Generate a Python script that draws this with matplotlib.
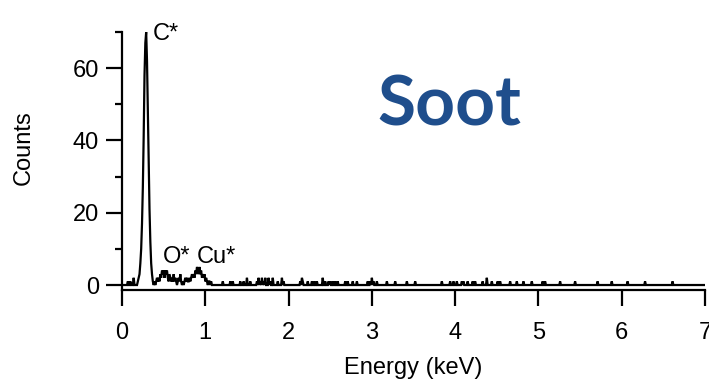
import numpy as np
import matplotlib
matplotlib.use("Agg")
import matplotlib.pyplot as plt
from matplotlib.ticker import MultipleLocator

# EDS spectrum of soot, 10 eV channels from 0 to 7 keV
channel_kev = 0.01
e_max = 7.0

# Carbon K line (counts per channel)
c_peak_start = 0.19
c_peak_counts = [1, 2, 3, 6, 10, 17, 27, 41, 58, 67, 70, 62, 48, 33, 21, 12, 6, 3, 1]

# Oxygen K and copper L region (counts per channel)
low_start = 0.38
low_counts = [0, 1, 0, 1, 2, 1, 2, 1, 3, 2, 4, 3, 4, 2, 4, 3, 4, 2, 1, 3,
              2, 1, 2, 1, 3, 1, 2, 1, 0, 1, 2, 1, 3, 1, 0, 1, 0, 1, 2, 1,
              2, 1, 1, 2, 1, 2, 3, 2, 3, 2, 4, 3, 5, 4, 3, 5, 3, 4, 2, 3,
              2, 3, 1, 2, 1, 0, 1, 1, 0, 1, 0]

# Isolated background counts
sparse_kev = [0.07, 0.10, 0.14,
              1.21, 1.30, 1.33, 1.42, 1.46, 1.50, 1.54, 1.62, 1.64, 1.66,
              1.68, 1.70, 1.72, 1.76, 1.78, 1.81, 1.87, 1.92, 1.94,
              2.14, 2.16, 2.17, 2.23, 2.28, 2.31, 2.34, 2.41, 2.44, 2.48,
              2.50, 2.53, 2.56, 2.59, 2.68, 2.71, 2.77, 2.82, 2.95, 2.98,
              3.00, 3.02, 3.06, 3.18, 3.28, 3.42, 3.52, 3.84, 3.94, 3.98,
              4.02, 4.08, 4.10, 4.15, 4.21, 4.24, 4.33, 4.38, 4.44, 4.51,
              4.54, 4.66, 4.74, 4.82, 4.92, 5.05, 5.08, 5.26, 5.44, 5.71,
              5.88, 6.07, 6.28, 6.61]
sparse_counts = [1, 1, 2,
                 1, 1, 1, 1, 1, 2, 1, 1, 2, 1,
                 2, 1, 2, 2, 1, 2, 1, 2, 1,
                 1, 2, 1, 1, 1, 1, 1, 2, 1, 1,
                 1, 1, 1, 1, 1, 1, 1, 1, 1, 1,
                 2, 1, 1, 1, 1, 1, 1, 1, 1, 1,
                 1, 1, 1, 1, 1, 1, 1, 2, 1, 1,
                 1, 1, 1, 1, 1, 1, 1, 1, 1, 1,
                 1, 1, 1, 1]

# Assemble the full spectrum
n_ch = int(round(e_max / channel_kev)) + 1
energy = np.arange(n_ch) * channel_kev
counts = np.zeros(n_ch)
for e, c in zip(sparse_kev, sparse_counts):
    counts[int(round(e / channel_kev))] = c
i0 = int(round(low_start / channel_kev))
counts[i0:i0 + len(low_counts)] = low_counts
i0 = int(round(c_peak_start / channel_kev))
counts[i0:i0 + len(c_peak_counts)] = c_peak_counts

plt.rcParams['font.family'] = ['Liberation Sans', 'DejaVu Sans']
fs = 17

fig = plt.figure(figsize=(7.09, 3.80), dpi=100)
ax = fig.add_axes([0.1721, 0.2376, 0.8223, 0.6782])

ax.plot(energy, counts, color='black', lw=1.6, solid_joinstyle='miter')

ax.set_xlim(0, 7)
ax.set_ylim(-1.3, 70)
ax.xaxis.set_major_locator(MultipleLocator(1))
ax.yaxis.set_major_locator(MultipleLocator(20))
ax.yaxis.set_minor_locator(MultipleLocator(10))

for s in ('top', 'right'):
    ax.spines[s].set_visible(False)
for s in ('left', 'bottom'):
    ax.spines[s].set_linewidth(1.6)

ax.tick_params(axis='both', which='major', direction='out', length=11.5,
               width=1.6, labelsize=fs, color='black')
ax.tick_params(axis='y', which='minor', direction='out', length=5, width=1.6)
ax.tick_params(axis='y', which='major', pad=5)
ax.tick_params(axis='x', which='major', pad=12)

ax.set_xlabel('Energy (keV)', fontsize=fs)
ax.set_ylabel('Counts', fontsize=fs)
ax.xaxis.set_label_coords(0.5, -0.262)
ax.yaxis.set_label_coords(-0.15, 0.55)

ax.text(0.372, 67.8, 'C*', fontsize=fs, ha='left', va='baseline')
ax.text(0.49, 6.1, 'O*', fontsize=fs, ha='left', va='baseline')
ax.text(0.90, 6.1, 'Cu*', fontsize=fs, ha='left', va='baseline')

fig.text(449 / 709, 1 - 125 / 380, 'Soot', fontsize=50, fontweight='bold',
         family=['Lato', 'DejaVu Sans'], color='#1f4e8c',
         ha='center', va='baseline')

fig.savefig('out.png', dpi=100)
